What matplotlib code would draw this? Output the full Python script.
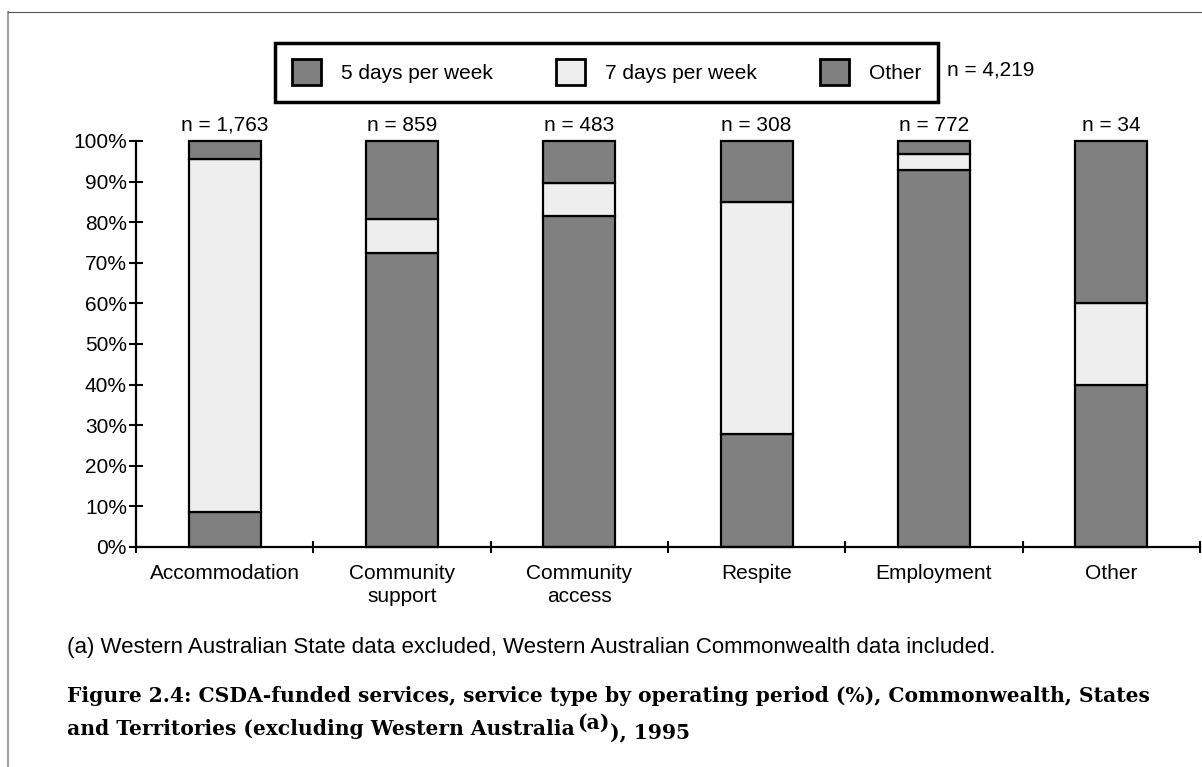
import matplotlib.pyplot as plt
from matplotlib.patches import Patch
from matplotlib.lines import Line2D

categories = ["Accommodation", "Community\nsupport", "Community\naccess",
              "Respite", "Employment", "Other"]
n_labels = ["n = 1,763", "n = 859", "n = 483", "n = 308", "n = 772", "n = 34"]
five_days = [8.6, 72.4, 81.6, 27.8, 92.8, 40.0]
seven_days = [86.9, 8.4, 8.0, 57.2, 4.1, 20.0]
other = [4.5, 19.2, 10.4, 15.0, 3.1, 40.0]
series_names = ["5 days per week", "7 days per week", "Other"]
total_label = "n = 4,219"

DARK = "#808080"
LIGHT = "#eeeeee"
SANS = "Liberation Sans"
SERIF = "DejaVu Serif"

plt.rcParams["font.family"] = SANS
plt.rcParams["font.size"] = 15

W, H = 1202, 767
fig = plt.figure(figsize=(W / 100, H / 100), dpi=100)
ax = fig.add_axes([136 / W, 1 - 547 / H, 1064 / W, 406 / H])

pos = list(range(len(categories)))
bottom2 = five_days
bottom3 = [a + b for a, b in zip(five_days, seven_days)]
kw = dict(width=0.406, edgecolor="black", linewidth=1.6, clip_on=False)
ax.bar(pos, five_days, color=DARK, **kw)
ax.bar(pos, seven_days, bottom=bottom2, color=LIGHT, **kw)
ax.bar(pos, other, bottom=bottom3, color=DARK, **kw)

for p, lab in zip(pos, n_labels):
    ax.annotate(lab, (p, 100), xytext=(0, 7.5), textcoords="offset points",
                ha="center", va="baseline", fontsize=15)

ax.set_xlim(-0.5, len(categories) - 0.5)
ax.set_ylim(0, 100)
ax.set_yticks(range(0, 101, 10))
ax.set_yticklabels([f"{v}%" for v in range(0, 101, 10)])
ax.set_xticks([p - 0.5 for p in pos] + [len(pos) - 0.5])
ax.set_xticklabels([])
ax.set_xticks(pos, minor=True)
ax.set_xticklabels(categories, minor=True, linespacing=1.3)
ax.tick_params(axis="x", which="minor", length=0, pad=12)
ax.tick_params(axis="x", which="major", direction="inout", length=9, width=1.5)
ax.tick_params(axis="y", direction="inout", length=10, width=1.5, pad=1.5)

for s in ("top", "right"):
    ax.spines[s].set_visible(False)
for s in ("left", "bottom"):
    ax.spines[s].set_linewidth(1.6)

handles = [Patch(facecolor=c, edgecolor="black", linewidth=2)
           for c in (DARK, LIGHT, DARK)]
leg = fig.legend(handles, series_names, loc="lower left",
                 bbox_to_anchor=(275 / W, 1 - 102 / H, 663 / W, 65 / H),
                 mode="expand", ncol=3, fancybox=False, edgecolor="black",
                 handlelength=1.4, handleheight=1.55, handletextpad=0.95,
                 borderpad=0.8, borderaxespad=0, fontsize=15)
leg.get_frame().set_linewidth(2.5)
leg.get_frame().set_alpha(1)
fig.text(947 / W, 1 - 70 / H, total_label, fontsize=15, va="center")

# page frame remnants
fig.add_artist(Line2D([8 / W, 8 / W], [0, 1 - 12 / H], color="#a0a0a0", lw=1.5))
fig.add_artist(Line2D([8 / W, 1], [1 - 12 / H, 1 - 12 / H], color="#555555", lw=0.8))

fig.text(67 / W, 1 - 647 / H,
         "(a) Western Australian State data excluded, Western Australian "
         "Commonwealth data included.", fontsize=16, va="center")

cap_kw = dict(fontfamily=SERIF, fontweight="bold", fontsize=14.6)
fig.text(67 / W, 1 - 702 / H,
         "Figure 2.4: CSDA-funded services, service type by operating period "
         "(%), Commonwealth, States", va="baseline", **cap_kw)
t1 = fig.text(67 / W, 1 - 735 / H,
              "and Territories (excluding Western Australia", va="baseline", **cap_kw)
sup = fig.add_artist(plt.Annotation("(a)", xy=(1, 0), xycoords=t1,
                                    xytext=(2, 7), textcoords="offset points",
                                    va="baseline", **cap_kw))
fig.add_artist(plt.Annotation("), 1995", xy=(1, 0), xycoords=(sup, t1),
                              va="baseline", ha="left", **cap_kw))

fig.savefig("out.png", dpi=100)
